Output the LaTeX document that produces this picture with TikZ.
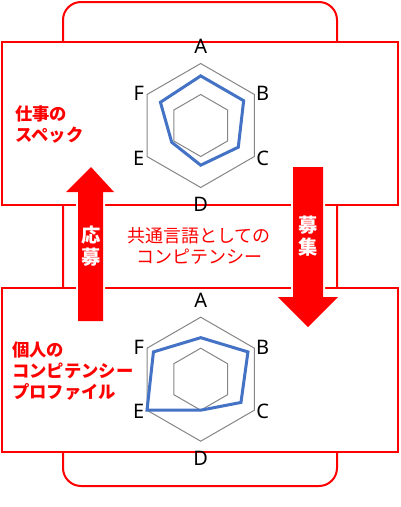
\documentclass[tikz,border=0pt]{standalone}
\usepackage{fontspec}
\setmainfont{Noto Sans}
\newfontfamily\jpfont{Noto Sans CJK JP}
\usepackage{xcolor}
\usepackage{tikz}
\usetikzlibrary{calc}
\definecolor{chartblue}{RGB}{68,114,196}
\definecolor{gridgray}{RGB}{134,134,134}
\tikzset{
    backframe/.style={draw=red, line width=1.5pt, rounded corners=13.5pt},
    frame/.style={draw=red, line width=1.5pt, fill=white},
    bigarrow/.style={fill=red, preaction={draw=white, line width=3pt}},
    hexgrid/.style={draw=gridgray, line width=0.75pt},
    series/.style={draw=chartblue, line width=2.25pt, line join=miter},
    axislabel/.style={font=\fontsize{15}{17}\selectfont, inner sep=0pt},
    redlabel/.style={text=red, font=\jpfont\bfseries\fontsize{13}{15.75}\selectfont, align=left, inner sep=0pt},
    midlabel/.style={text=red, font=\jpfont\fontsize{13.5}{15.4}\selectfont, align=center, inner sep=0pt},
    arrowlabel/.style={text=white, font=\jpfont\bfseries\fontsize{14.5}{16.5}\selectfont, align=center, inner sep=0pt}
}

\begin{document}
\begin{tikzpicture}[x=0.75pt, y=-0.75pt]
    \useasboundingbox (0,0) rectangle (400,507);
    \draw[backframe] (63,2) rectangle (337,486);
    \draw[frame] (2,42) rectangle (397.5,204.5);
    \draw[frame] (2,288) rectangle (397.5,452);
    % arrows between the two frames
    \path[bigarrow] (91,167) -- (114,192) -- (103,192) -- (103,321) -- (78,321) -- (78,192) -- (66,192) -- cycle;
    \path[bigarrow] (308,327) -- (338,297) -- (323,297) -- (323,167) -- (293,167) -- (293,297) -- (278,297) -- cycle;
    \node[arrowlabel] (apply) at (91,246.5) {応\\募};
    \node[arrowlabel] (recruit) at (308,236) {募\\集};
    \node[midlabel] (common) at (199,246) {共通言語としての\\コンピテンシー};
    \node[redlabel, anchor=west] (jobspec) at (15,124) {仕事の\\スペック};
    \node[redlabel, anchor=west] (profile) at (12,371) {個人の\\コンピテンシー\\プロファイル};
    % top chart: job spec
    \begin{scope}[shift={(200.7,125.5)}]
        \draw[hexgrid] (-90:62) \foreach \a in {-30,30,...,210} { -- (\a:62) } -- cycle;
        \draw[hexgrid] (-90:31) \foreach \a in {-30,30,...,210} { -- (\a:31) } -- cycle;
        \foreach \v [count=\i from 0] in {0.8,0.8,0.7,0.64,0.54,0.75}
            \coordinate (js\i) at ({-90+60*\i}:{62*\v});
        \draw[series] (js0) -- (js1) -- (js2) -- (js3) -- (js4) -- (js5) -- cycle;
        \foreach \l/\px/\py in {A/0/-79,B/62/-32.5,C/62/32.5,D/0/79,E/-62/32.5,F/-62/-32.5}
            \node[axislabel] (js\l) at (\px,\py) {\l};
    \end{scope}
    % bottom chart: personal profile
    \begin{scope}[shift={(200.7,379.2)}]
        \draw[hexgrid] (-90:62) \foreach \a in {-30,30,...,210} { -- (\a:62) } -- cycle;
        \draw[hexgrid] (-90:31) \foreach \a in {-30,30,...,210} { -- (\a:31) } -- cycle;
        \foreach \v [count=\i from 0] in {0.67,0.88,0.75,0.5,1.0,0.88}
            \coordinate (pp\i) at ({-90+60*\i}:{62*\v});
        \draw[series] (pp0) -- (pp1) -- (pp2) -- (pp3) -- (pp4) -- (pp5) -- cycle;
        \foreach \l/\px/\py in {A/0/-79,B/62/-32,C/62/32.5,D/0/79,E/-62/32.5,F/-62/-32}
            \node[axislabel] (pp\l) at (\px,\py) {\l};
    \end{scope}
\end{tikzpicture}
\end{document}
